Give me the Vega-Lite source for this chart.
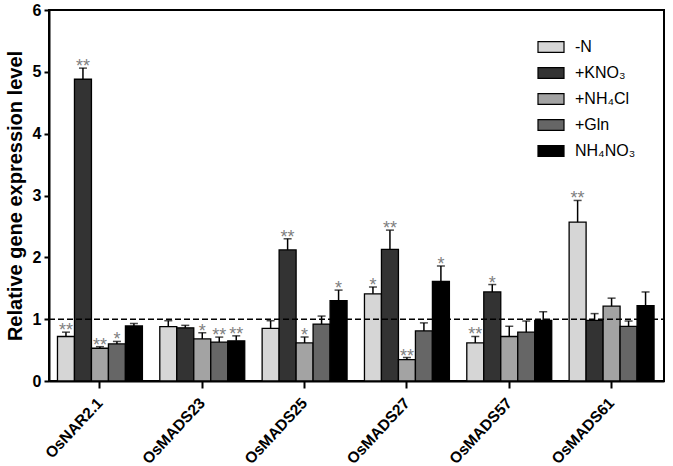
{
  "$schema": "https://vega.github.io/schema/vega-lite/v6.json",
  "autosize": "none",
  "width": 615,
  "height": 371,
  "padding": {"left": 49, "top": 10, "right": 9, "bottom": 85},
  "background": "white",
  "config": {
    "font": "Liberation Sans",
    "view": {"stroke": "black", "strokeWidth": 2},
    "axis": {"grid": false, "domainColor": "black", "domainWidth": 2, "tickColor": "black", "tickWidth": 2, "labelColor": "black", "titleColor": "black", "labelFont": "Liberation Sans", "titleFont": "Liberation Sans"},
    "axisY": {"titleFontSize": 20, "titleFontWeight": "bold", "titlePadding": 7, "labelFontSize": 16, "labelFontWeight": "bold", "tickSize": 5, "labelPadding": 3}
  },
  "datasets": {
    "expr": [
      {"gene": "OsNAR2.1", "t": "-N", "v": 0.72, "e": 0.79, "s": "**"},
      {"gene": "OsNAR2.1", "t": "+KNO₃", "v": 4.88, "e": 5.06, "s": "**"},
      {"gene": "OsNAR2.1", "t": "+NH₄Cl", "v": 0.53, "e": 0.555, "s": "**"},
      {"gene": "OsNAR2.1", "t": "+Gln", "v": 0.6, "e": 0.64, "s": "*"},
      {"gene": "OsNAR2.1", "t": "NH₄NO₃", "v": 0.89, "e": 0.93, "s": ""},
      {"gene": "OsMADS23", "t": "-N", "v": 0.88, "e": 0.975, "s": ""},
      {"gene": "OsMADS23", "t": "+KNO₃", "v": 0.86, "e": 0.9, "s": ""},
      {"gene": "OsMADS23", "t": "+NH₄Cl", "v": 0.68, "e": 0.78, "s": "*"},
      {"gene": "OsMADS23", "t": "+Gln", "v": 0.63, "e": 0.71, "s": "**"},
      {"gene": "OsMADS23", "t": "NH₄NO₃", "v": 0.65, "e": 0.73, "s": "**"},
      {"gene": "OsMADS25", "t": "-N", "v": 0.85, "e": 0.975, "s": ""},
      {"gene": "OsMADS25", "t": "+KNO₃", "v": 2.12, "e": 2.3, "s": "**"},
      {"gene": "OsMADS25", "t": "+NH₄Cl", "v": 0.615, "e": 0.71, "s": "*"},
      {"gene": "OsMADS25", "t": "+Gln", "v": 0.92, "e": 1.05, "s": ""},
      {"gene": "OsMADS25", "t": "NH₄NO₃", "v": 1.3, "e": 1.47, "s": "*"},
      {"gene": "OsMADS27", "t": "-N", "v": 1.41, "e": 1.52, "s": "*"},
      {"gene": "OsMADS27", "t": "+KNO₃", "v": 2.13, "e": 2.44, "s": "**"},
      {"gene": "OsMADS27", "t": "+NH₄Cl", "v": 0.345, "e": 0.38, "s": "**"},
      {"gene": "OsMADS27", "t": "+Gln", "v": 0.81, "e": 0.94, "s": ""},
      {"gene": "OsMADS27", "t": "NH₄NO₃", "v": 1.61, "e": 1.86, "s": "*"},
      {"gene": "OsMADS57", "t": "-N", "v": 0.615, "e": 0.72, "s": "**"},
      {"gene": "OsMADS57", "t": "+KNO₃", "v": 1.44, "e": 1.56, "s": "*"},
      {"gene": "OsMADS57", "t": "+NH₄Cl", "v": 0.72, "e": 0.885, "s": ""},
      {"gene": "OsMADS57", "t": "+Gln", "v": 0.79, "e": 0.97, "s": ""},
      {"gene": "OsMADS57", "t": "NH₄NO₃", "v": 0.98, "e": 1.12, "s": ""},
      {"gene": "OsMADS61", "t": "-N", "v": 2.57, "e": 2.92, "s": "**"},
      {"gene": "OsMADS61", "t": "+KNO₃", "v": 0.98, "e": 1.09, "s": ""},
      {"gene": "OsMADS61", "t": "+NH₄Cl", "v": 1.21, "e": 1.34, "s": ""},
      {"gene": "OsMADS61", "t": "+Gln", "v": 0.885, "e": 0.97, "s": ""},
      {"gene": "OsMADS61", "t": "NH₄NO₃", "v": 1.22, "e": 1.44, "s": ""}
    ],
    "ref": [{"r": 1}]
  },
  "layer": [
    {
      "data": {"name": "expr"},
      "encoding": {
        "x": {
          "field": "gene", "type": "nominal", "sort": null,
          "scale": {"paddingInner": 0.17, "paddingOuter": 0.09, "align": 0.46},
          "axis": {"title": null, "labelAngle": -47, "labelAlign": "right", "labelBaseline": "middle", "labelFontSize": 15.5, "labelFontWeight": "bold", "labelPadding": 12, "tickSize": 7}
        },
        "xOffset": {"field": "t", "type": "nominal", "scale": {"domain": ["-N", "+KNO₃", "+NH₄Cl", "+Gln", "NH₄NO₃"], "paddingInner": 0}}
      },
      "layer": [
        {
          "mark": {"type": "bar", "stroke": "black", "strokeWidth": 1.3},
          "encoding": {
            "y": {"field": "v", "type": "quantitative", "scale": {"domain": [0, 6], "nice": false},
              "axis": {"title": "Relative gene expression level", "values": [0, 1, 2, 3, 4, 5, 6]}},
            "color": {"field": "t", "type": "nominal",
              "scale": {"domain": ["-N", "+KNO₃", "+NH₄Cl", "+Gln", "NH₄NO₃"], "range": ["#d6d6d6", "#333333", "#a3a3a3", "#666666", "#000000"]},
              "legend": {"title": null, "orient": "none", "legendX": 488, "legendY": 23, "symbolType": "M-1,-0.42H1V0.42H-1Z", "symbolSize": 676, "symbolStrokeColor": "black", "symbolStrokeWidth": 1.2, "symbolOpacity": 1, "labelFontSize": 16, "labelOffset": 10, "rowPadding": 4, "labelColor": "black"}
            }
          }
        },
        {
          "mark": {"type": "rule", "color": "black", "strokeWidth": 1.5},
          "encoding": {"y": {"field": "v", "type": "quantitative", "axis": {"title": "Relative gene expression level", "values": [0, 1, 2, 3, 4, 5, 6]}}, "y2": {"field": "e"}}
        },
        {
          "mark": {"type": "tick", "color": "black", "thickness": 1.5, "size": 8, "orient": "horizontal"},
          "encoding": {"y": {"field": "e", "type": "quantitative", "axis": {"title": "Relative gene expression level", "values": [0, 1, 2, 3, 4, 5, 6]}}}
        },
        {
          "mark": {"type": "text", "color": "#808080", "fontSize": 18, "baseline": "alphabetic", "dy": 4},
          "encoding": {"y": {"field": "e", "type": "quantitative", "axis": {"title": "Relative gene expression level", "values": [0, 1, 2, 3, 4, 5, 6]}}, "text": {"field": "s"}}
        }
      ]
    },
    {
      "data": {"name": "ref"},
      "mark": {"type": "rule", "color": "black", "strokeWidth": 1.5, "strokeDash": [6, 3]},
      "encoding": {"y": {"field": "r", "type": "quantitative", "axis": {"title": "Relative gene expression level", "values": [0, 1, 2, 3, 4, 5, 6]}}, "x": {"value": 0}, "x2": {"value": 615}}
    }
  ]
}
